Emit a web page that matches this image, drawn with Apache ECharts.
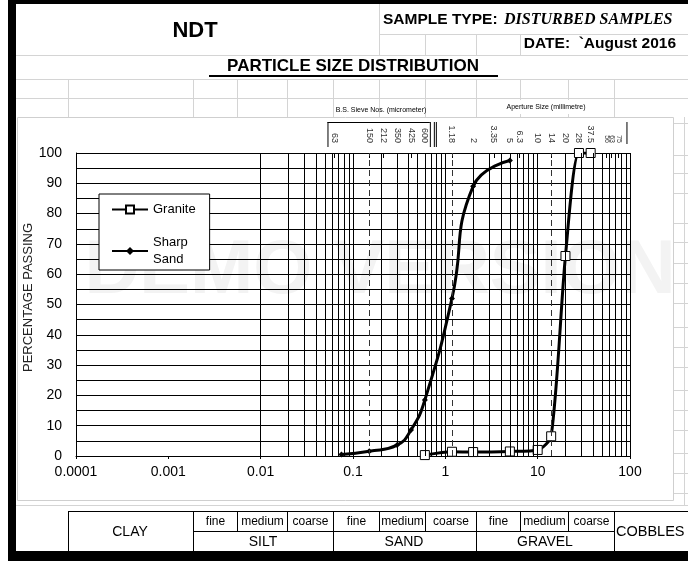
<!DOCTYPE html>
<html>
<head>
<meta charset="utf-8">
<script src="https://cdn.jsdelivr.net/npm/echarts@6/dist/echarts.min.js"></script>
<style>
html, body { margin: 0; padding: 0; background: #fff; }
#chart { width: 688px; height: 561px; }
</style>
</head>
<body>
<div id="chart"></div>
<script>
// B.S. sieve sizes in mm, and the labels printed above the plot
const sieveSizes  = [0.063, 0.15, 0.212, 0.3, 0.425, 0.6, 1.18, 2, 3.35, 5, 6.3, 10, 14, 20, 28, 37.5, 56, 63, 75]
const sieveLabels = ['63', '150', '212', '350', '425', '600', '1.18', '2', '3.35', '5', '6.3', '10', '14', '20', '28', '37.5', '56', '63', '75']

// granite
const graniteSize = [0.6, 1.18, 2, 5, 10, 14, 20, 28, 37.5]
const granitePass = [0.3, 1.4, 1.3, 1.5, 2, 6.5, 66, 100, 100]

// sharp sand
const sandSize = [0.075, 0.15, 0.3, 0.425, 0.6, 1.18, 2, 5]
const sandPass = [0.5, 1.6, 3.6, 8.6, 18.5, 52, 89, 97.5]

const xTicks      = [0.0001, 0.001, 0.01, 0.1, 1, 10, 100]
const xTickLabels = ['0.0001', '0.001', '0.01', '0.1', '1', '10', '100']
const dashedSizes = [0.15, 1.18, 14]
const clayLimit   = 0.002

const FONT = '"Liberation Sans", Arial, sans-serif'

// log grid: majors + 2..9 of every decade
const gridLines = []
for (let d = -4; d < 2; d++) {
    for (let k = 1; k < 10; k++) {
        const v = Number((k * Math.pow(10, d)).toPrecision(3))
        if (v === clayLimit) continue
        gridLines.push({ xAxis: v })
    }
}
gridLines.push({ xAxis: 100 })
gridLines.push({ xAxis: clayLimit, lineStyle: { width: 2 } })
dashedSizes.forEach(v => gridLines.push({ xAxis: v, lineStyle: { type: [6, 4], color: '#333' } }))

function sieveIndex (v) {
    let best = 0
    sieveSizes.forEach((s, i) => {
        if (Math.abs(Math.log(s / v)) < Math.abs(Math.log(sieveSizes[best] / v))) best = i
    })
    return best
}

const option = {
    animation: false,
    textStyle: { fontFamily: FONT },
    grid: { left: 76, right: 58, top: 153, bottom: 105 },
    legend: {
        data: ['Granite', 'Sharp Sand'],
        orient: 'vertical',
        left: 99, top: 194,
        backgroundColor: '#fff',
        borderColor: '#000', borderWidth: 1,
        padding: [7, 14, 2, 12],
        itemWidth: 36, itemHeight: 10, itemGap: 16,
        textStyle: { fontSize: 13, color: '#000', fontFamily: FONT, lineHeight: 17 },
        formatter: n => n === 'Sharp Sand' ? 'Sharp\nSand' : n
    },
    xAxis: [
        {
            type: 'log', logBase: 10, min: 0.0001, max: 100,
            axisLine: { lineStyle: { color: '#000', width: 1 } },
            axisTick: { show: true, length: 3, lineStyle: { color: '#000' } },
            splitLine: { show: false },
            axisLabel: {
                fontSize: 14, color: '#000', margin: 9,
                formatter: v => {
                    const i = xTicks.findIndex(t => Math.abs(Math.log10(t) - Math.log10(v)) < 0.01)
                    return i < 0 ? '' : xTickLabels[i]
                }
            }
        },
        {
            type: 'log', logBase: 10, min: 0.0001, max: 100, position: 'top',
            axisLine: { show: false },
            splitLine: { show: false },
            axisTick: { show: true, inside: true, length: 5, customValues: sieveSizes, lineStyle: { color: '#000' } },
            axisLabel: {
                customValues: sieveSizes, rotate: 90, fontSize: 9, color: '#333', margin: 10,
                showMinLabel: true, showMaxLabel: true, interval: 0,
                formatter: v => {
                    const i = sieveIndex(v)
                    return sieveSizes[i] > 50 ? '{s|' + sieveLabels[i] + '}' : sieveLabels[i]
                },
                rich: { s: { fontSize: 7, color: '#333' } }
            }
        }
    ],
    yAxis: {
        type: 'value', min: 0, max: 100, interval: 5,
        name: 'PERCENTAGE PASSING', nameLocation: 'middle', nameGap: 41, nameRotate: 90,
        nameMoveOverlap: false,
        nameTextStyle: { fontSize: 13, color: '#222', fontFamily: FONT, padding: [0, 0, 0, 14] },
        axisLine: { show: true, lineStyle: { color: '#000' } },
        axisTick: { show: false },
        splitLine: { show: true, lineStyle: { color: '#000', width: 1 } },
        axisLabel: {
            fontSize: 14, color: '#000', margin: 14,
            formatter: v => v % 10 === 0 ? String(v) : ''
        }
    },
    series: [
        {
            name: 'Granite',
            type: 'line',
            data: graniteSize.map((s, i) => [s, granitePass[i]]),
            smooth: 0.25,
            symbol: 'rect', symbolSize: 9,
            lineStyle: { color: '#000', width: 3 },
            itemStyle: { color: '#fff', borderColor: '#000', borderWidth: 1 },
            z: 4
        },
        {
            name: 'Sharp Sand',
            type: 'line',
            data: sandSize.map((s, i) => [s, sandPass[i]]),
            smooth: 0.5,
            symbol: 'diamond', symbolSize: 6,
            lineStyle: { color: '#000', width: 3 },
            itemStyle: { color: '#000' },
            z: 3,
            markLine: {
                silent: true, symbol: ['none', 'none'], label: { show: false },
                lineStyle: { color: '#000', width: 1, type: 'solid' },
                data: gridLines
            }
        }
    ]
}

const chart = echarts.init(document.getElementById('chart'))
chart.setOption(option)

// spreadsheet around the chart
function sheet () {
    const px = v => chart.convertToPixel({ xAxisIndex: 0 }, v)
    const g = []
    const gray = '#d4d4d4'
    const cols = [68, 193, 237, 287, 333, 379, 425, 476, 520, 568, 614]
    const line = (x1, y1, x2, y2, stroke, lw, z) => g.push({
        type: 'line', silent: true, z: z === undefined ? -5 : z,
        shape: { x1, y1, x2, y2 }, style: { stroke, lineWidth: lw || 1 }
    })
    const text = (x, y, t, font, align, z) => g.push({
        type: 'text', silent: true, z: z === undefined ? 5 : z,
        style: { x, y, text: t, font, fill: '#000', textAlign: align || 'center', textVerticalAlign: 'middle' }
    })

    // header cells
    line(379.5, 3, 379.5, 55, gray)
    line(379, 34.5, 688, 34.5, gray)
    ;[425, 476, 520].forEach(x => line(x + 0.5, 34, x + 0.5, 55, gray))
    ;[55, 79, 98].forEach(y => line(16, y + 0.5, 688, y + 0.5, gray))
    cols.forEach(x => line(x + 0.5, 79, x + 0.5, 117, gray))

    text(195, 31, 'NDT', 'bold 22px ' + FONT)
    text(383, 20, 'SAMPLE TYPE:', 'bold 15.5px "Liberation Sans Narrow", ' + FONT, 'left')
    text(504, 20, 'DISTURBED SAMPLES', 'bold italic 16px "Liberation Serif", serif', 'left')
    text(676, 44, 'DATE:  `August 2016', 'bold 15.5px "Liberation Sans Narrow", ' + FONT, 'right')
    text(353, 66, 'PARTICLE SIZE DISTRIBUTION', 'bold 17px ' + FONT)
    line(209, 76, 498, 76, '#000', 2, 5)
    g.push({ type: 'rect', silent: true, z: -4, shape: { x: 498, y: 100, width: 96, height: 14 }, style: { fill: '#fff' } })
    text(381, 110, 'B.S. Sieve Nos. (micrometer)', '7px ' + FONT, 'center')
    text(546, 107, 'Aperture Size (millimetre)', '7px ' + FONT, 'center')

    // chart object box
    g.push({ type: 'rect', silent: true, z: -4, shape: { x: 17.5, y: 117.5, width: 656, height: 383 }, style: { fill: '#fff', stroke: '#cfcfcf', lineWidth: 1 } })
    ;[123, 155, 173, 193, 223, 242, 263, 283, 303, 327, 347, 367, 390, 410, 430, 453, 473, 493].forEach(y => line(674, y + 0.5, 688, y + 0.5, gray))
    line(684.5, 117, 684.5, 505, gray)
    line(16, 505.5, 688, 505.5, gray)

    // watermark
    g.push({
        type: 'text', silent: true, z: -3,
        style: { x: 380, y: 272, text: 'DEMO VERSION', font: 'bold 76px ' + FONT, fill: '#f3f3f3', textAlign: 'center', textVerticalAlign: 'middle' }
    })

    // sieve brackets above the plot
    const xa = px(sieveSizes[0]) - 7
    const xb = px(sieveSizes[5]) + 5
    line(xa, 122.5, xb, 122.5, '#000', 1, 5)
    line(xa + 0.5, 122, xa + 0.5, 147, '#000', 1, 5)
    line(xb + 0.5, 122, xb + 0.5, 147, '#000', 1, 5)
    line(xb + 4.5, 122, xb + 4.5, 147, '#000', 1, 5)
    line(xb + 6.5, 122, xb + 6.5, 147, '#000', 1, 5)
    const xc = px(sieveSizes[sieveSizes.length - 1]) + 8
    line(xc + 0.5, 122, xc + 0.5, 144, '#000', 1, 5)

    // soil classification table
    const t0 = 511.5, tm = 531.5, t1 = 551
    line(68, t0, 688, t0, '#000', 1, 5)
    line(193, tm, 614, tm, '#000', 1, 5)
    ;[68, 193, 333, 476, 614].forEach(x => line(x + 0.5, t0, x + 0.5, t1, '#000', 1, 5))
    ;[237, 287, 379, 425, 520, 568].forEach(x => line(x + 0.5, t0, x + 0.5, tm, '#000', 1, 5))
    const f14 = '14px ' + FONT, f12 = '12px ' + FONT
    text(130, 532, 'CLAY', f14)
    const sub = [193, 237, 287, 333, 379, 425, 476, 520, 568, 614]
    ;['fine', 'medium', 'coarse', 'fine', 'medium', 'coarse', 'fine', 'medium', 'coarse'].forEach((t, i) => {
        text((sub[i] + sub[i + 1]) / 2 + 0.5, 522, t, f12)
    })
    text(263, 542, 'SILT', f14)
    text(404, 542, 'SAND', f14)
    text(545, 542, 'GRAVEL', f14)
    text(616, 532, 'COBBLES', '14.5px ' + FONT, 'left')

    // black frame
    g.push({ type: 'rect', silent: true, z: 6, shape: { x: 8, y: 0, width: 680, height: 4 }, style: { fill: '#000' } })
    g.push({ type: 'rect', silent: true, z: 6, shape: { x: 8, y: 0, width: 8, height: 561 }, style: { fill: '#000' } })
    g.push({ type: 'rect', silent: true, z: 6, shape: { x: 8, y: 551, width: 680, height: 10 }, style: { fill: '#000' } })
    return g
}

chart.setOption({ graphic: { elements: sheet() } })
</script>
</body>
</html>
